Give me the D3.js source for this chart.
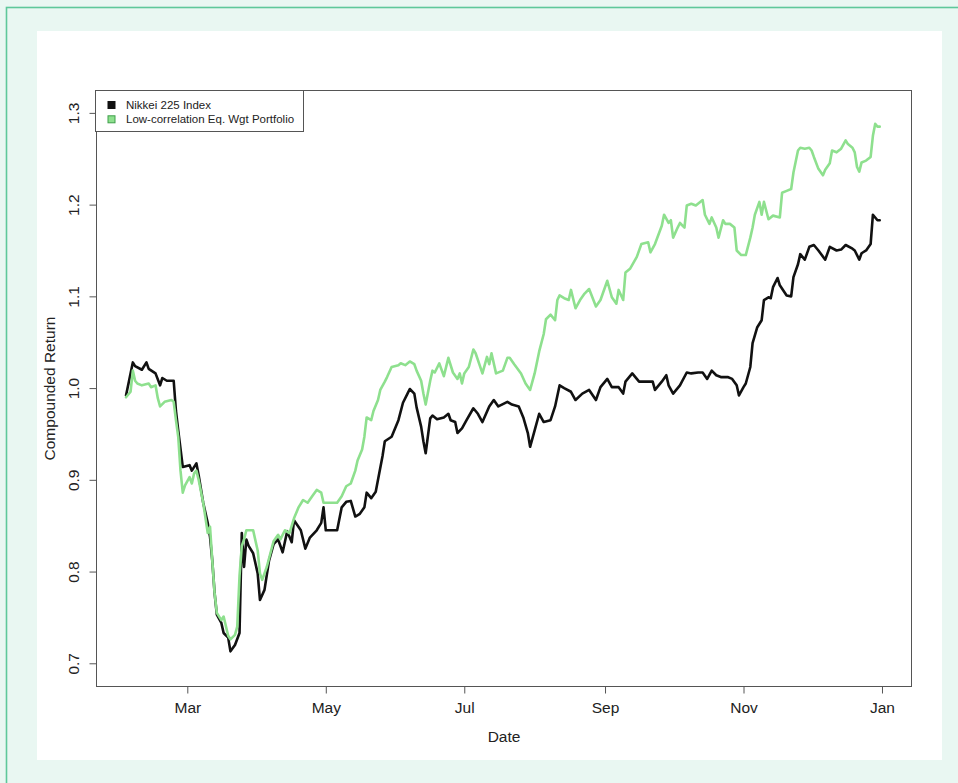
<!DOCTYPE html>
<html><head><meta charset="utf-8">
<script src="https://cdn.jsdelivr.net/npm/d3@7"></script>
<style>
html,body{margin:0;padding:0;background:#e9f7f2;}
svg{display:block;font-family:"Liberation Sans",Arial,sans-serif;}
</style>
</head><body>
<svg id="chart" width="958" height="783"></svg>
<script>
// ---------- data ----------
const seriesNames = ["Nikkei 225 Index", "Low-correlation Eq. Wgt Portfolio"];
const xTickDates = ["2020-03-01","2020-05-01","2020-07-01","2020-09-01","2020-11-01","2021-01-01"];
const yTickValues = [0.7, 0.8, 0.9, 1.0, 1.1, 1.2, 1.3];
const xTitle = "Date";
const yTitle = "Compounded Return";

const nikkeiDates = [
"2020-02-03","2020-02-06","2020-02-07","2020-02-10","2020-02-12","2020-02-13","2020-02-16","2020-02-18","2020-02-19","2020-02-21",
"2020-02-24","2020-02-25","2020-02-26","2020-02-28","2020-03-02","2020-03-03","2020-03-05","2020-03-06","2020-03-08","2020-03-10",
"2020-03-11","2020-03-12","2020-03-13","2020-03-14","2020-03-16","2020-03-17","2020-03-19","2020-03-20","2020-03-22","2020-03-24",
"2020-03-25","2020-03-26","2020-03-27","2020-03-28","2020-03-30","2020-04-01","2020-04-02","2020-04-04","2020-04-06","2020-04-08",
"2020-04-10","2020-04-12","2020-04-14","2020-04-16","2020-04-17","2020-04-20","2020-04-22","2020-04-24","2020-04-27","2020-04-29",
"2020-04-30","2020-05-01","2020-05-06","2020-05-08","2020-05-10","2020-05-12","2020-05-14","2020-05-16","2020-05-18","2020-05-19",
"2020-05-21","2020-05-23","2020-05-24","2020-05-26","2020-05-27","2020-05-30","2020-06-02","2020-06-04","2020-06-06","2020-06-07",
"2020-06-09","2020-06-10","2020-06-12","2020-06-13","2020-06-14","2020-06-16","2020-06-17","2020-06-19","2020-06-22","2020-06-24",
"2020-06-25","2020-06-27","2020-06-28","2020-06-30","2020-07-02","2020-07-05","2020-07-07","2020-07-09","2020-07-12","2020-07-14",
"2020-07-16","2020-07-20","2020-07-22","2020-07-25","2020-07-27","2020-07-29","2020-07-30","2020-08-01","2020-08-03","2020-08-05",
"2020-08-08","2020-08-10","2020-08-12","2020-08-14","2020-08-17","2020-08-19","2020-08-22","2020-08-25","2020-08-28","2020-08-30",
"2020-09-02","2020-09-04","2020-09-07","2020-09-09","2020-09-10","2020-09-13","2020-09-16","2020-09-22","2020-09-23","2020-09-26",
"2020-09-28","2020-09-29","2020-10-01","2020-10-04","2020-10-07","2020-10-09","2020-10-12","2020-10-14","2020-10-16","2020-10-18",
"2020-10-20","2020-10-22","2020-10-25","2020-10-27","2020-10-29","2020-10-30","2020-11-01","2020-11-02","2020-11-04","2020-11-05",
"2020-11-07","2020-11-09","2020-11-10","2020-11-12","2020-11-13","2020-11-14","2020-11-16","2020-11-17","2020-11-20","2020-11-22",
"2020-11-23","2020-11-25","2020-11-26","2020-11-28","2020-11-30","2020-12-02","2020-12-04","2020-12-07","2020-12-09","2020-12-12",
"2020-12-14","2020-12-16","2020-12-19","2020-12-20","2020-12-22","2020-12-23","2020-12-25","2020-12-27","2020-12-28","2020-12-30",
"2020-12-31"];
const nikkeiValues = [
0.992,1.028,1.024,1.020,1.028,1.021,1.016,1.003,1.011,1.008,
1.008,0.975,0.954,0.914,0.916,0.910,0.918,0.905,0.875,0.853,
0.838,0.812,0.777,0.753,0.744,0.733,0.728,0.713,0.720,0.733,
0.842,0.805,0.835,0.828,0.820,0.798,0.769,0.780,0.812,0.830,
0.835,0.821,0.844,0.832,0.856,0.845,0.825,0.837,0.845,0.853,
0.870,0.845,0.845,0.870,0.876,0.877,0.860,0.863,0.870,0.886,
0.880,0.887,0.900,0.926,0.942,0.947,0.965,0.984,0.994,0.999,
0.994,0.979,0.958,0.942,0.929,0.967,0.970,0.966,0.968,0.972,
0.965,0.963,0.951,0.956,0.965,0.978,0.972,0.963,0.980,0.987,
0.980,0.985,0.982,0.980,0.968,0.951,0.936,0.954,0.972,0.963,
0.965,0.980,1.003,1.000,0.996,0.987,0.994,0.998,0.987,1.001,
1.010,1.001,1.001,0.994,1.007,1.016,1.007,1.007,0.998,1.007,
1.014,1.003,0.994,1.003,1.017,1.016,1.017,1.017,1.010,1.019,
1.014,1.012,1.012,1.010,1.003,0.992,1.001,1.005,1.023,1.049,
1.066,1.074,1.096,1.099,1.098,1.110,1.120,1.112,1.101,1.100,
1.121,1.135,1.146,1.140,1.154,1.156,1.150,1.140,1.154,1.150,
1.151,1.156,1.152,1.150,1.140,1.147,1.150,1.157,1.189,1.183,
1.183];

const portfolioDates = [
"2020-02-03","2020-02-05","2020-02-06","2020-02-07","2020-02-08","2020-02-10","2020-02-13","2020-02-14","2020-02-16","2020-02-17",
"2020-02-18","2020-02-20","2020-02-23","2020-02-24","2020-02-25","2020-02-26","2020-02-27","2020-02-28","2020-02-29","2020-03-02",
"2020-03-03","2020-03-04","2020-03-05","2020-03-06","2020-03-08","2020-03-10","2020-03-11","2020-03-12","2020-03-13","2020-03-14",
"2020-03-16","2020-03-17","2020-03-19","2020-03-20","2020-03-22","2020-03-23","2020-03-24","2020-03-25","2020-03-26","2020-03-27",
"2020-03-30","2020-04-01","2020-04-02","2020-04-03","2020-04-05","2020-04-08","2020-04-10","2020-04-11","2020-04-13","2020-04-15",
"2020-04-17","2020-04-19","2020-04-21","2020-04-23","2020-04-25","2020-04-27","2020-04-29","2020-04-30","2020-05-06","2020-05-08",
"2020-05-10","2020-05-12","2020-05-14","2020-05-15","2020-05-17","2020-05-18","2020-05-19","2020-05-21","2020-05-22","2020-05-24",
"2020-05-25","2020-05-27","2020-05-28","2020-05-30","2020-06-02","2020-06-03","2020-06-05","2020-06-07","2020-06-09","2020-06-10",
"2020-06-12","2020-06-13","2020-06-14","2020-06-16","2020-06-17","2020-06-18","2020-06-20","2020-06-22","2020-06-24","2020-06-26",
"2020-06-28","2020-06-29","2020-06-30","2020-07-01","2020-07-03","2020-07-05","2020-07-06","2020-07-09","2020-07-11","2020-07-12",
"2020-07-13","2020-07-15","2020-07-18","2020-07-20","2020-07-21","2020-07-23","2020-07-26","2020-07-28","2020-07-30","2020-08-01",
"2020-08-03","2020-08-05","2020-08-06","2020-08-08","2020-08-10","2020-08-11","2020-08-12","2020-08-14","2020-08-16","2020-08-17",
"2020-08-19","2020-08-21","2020-08-23","2020-08-25","2020-08-28","2020-08-30","2020-09-02","2020-09-04","2020-09-06","2020-09-07",
"2020-09-09","2020-09-10","2020-09-12","2020-09-15","2020-09-17","2020-09-20","2020-09-21","2020-09-23","2020-09-26","2020-09-27",
"2020-09-29","2020-09-30","2020-10-01","2020-10-03","2020-10-04","2020-10-06","2020-10-07","2020-10-09","2020-10-11","2020-10-14",
"2020-10-15","2020-10-17","2020-10-18","2020-10-20","2020-10-21","2020-10-23","2020-10-24","2020-10-26","2020-10-28","2020-10-29",
"2020-10-31","2020-11-02","2020-11-04","2020-11-05","2020-11-06","2020-11-08","2020-11-09","2020-11-10","2020-11-12","2020-11-14",
"2020-11-17","2020-11-18","2020-11-20","2020-11-22","2020-11-23","2020-11-25","2020-11-26","2020-11-28","2020-11-30","2020-12-01",
"2020-12-02","2020-12-04","2020-12-06","2020-12-07","2020-12-09","2020-12-10","2020-12-12","2020-12-14","2020-12-16","2020-12-17",
"2020-12-19","2020-12-20","2020-12-21","2020-12-22","2020-12-23","2020-12-25","2020-12-27","2020-12-28","2020-12-29","2020-12-30",
"2020-12-31"];
const portfolioValues = [
0.990,0.996,1.019,1.008,1.005,1.003,1.005,1.001,1.003,0.989,
0.980,0.985,0.987,0.985,0.965,0.947,0.910,0.886,0.894,0.903,
0.896,0.907,0.910,0.900,0.875,0.842,0.849,0.812,0.777,0.755,
0.747,0.751,0.730,0.726,0.731,0.740,0.795,0.828,0.835,0.845,
0.845,0.823,0.798,0.791,0.805,0.833,0.840,0.835,0.845,0.842,
0.858,0.870,0.878,0.875,0.882,0.889,0.886,0.875,0.875,0.882,
0.893,0.896,0.910,0.921,0.933,0.947,0.968,0.965,0.975,0.987,
0.998,1.007,1.012,1.023,1.025,1.027,1.025,1.029,1.026,1.019,
1.008,0.994,0.982,1.008,1.019,1.017,1.027,1.013,1.033,1.017,
1.010,1.016,1.005,1.016,1.023,1.042,1.038,1.016,1.034,1.026,
1.038,1.016,1.019,1.033,1.033,1.026,1.016,1.005,0.998,1.016,
1.040,1.059,1.075,1.080,1.074,1.096,1.101,1.098,1.096,1.107,
1.087,1.096,1.103,1.108,1.089,1.096,1.117,1.099,1.092,1.107,
1.096,1.126,1.130,1.143,1.157,1.159,1.148,1.157,1.177,1.189,
1.180,1.183,1.164,1.175,1.180,1.175,1.199,1.201,1.199,1.205,
1.189,1.179,1.186,1.175,1.164,1.183,1.179,1.179,1.175,1.150,
1.145,1.145,1.164,1.175,1.189,1.203,1.189,1.203,1.184,1.188,
1.186,1.213,1.215,1.217,1.235,1.259,1.262,1.261,1.262,1.259,
1.252,1.239,1.232,1.238,1.245,1.259,1.257,1.261,1.270,1.266,
1.262,1.257,1.241,1.236,1.246,1.248,1.252,1.275,1.288,1.285,
1.285];

// ---------- drawing ----------
const parse = d3.timeParse("%Y-%m-%d");
const svg = d3.select("#chart");
const font = "'Liberation Sans', Arial, sans-serif";

// page frame
svg.append("rect").attr("x",0).attr("y",0).attr("width",958).attr("height",783).attr("fill","#e9f7f2");
svg.append("rect").attr("x",6.5).attr("y",7.5).attr("width",1200).attr("height",1200)
  .attr("fill","none").attr("stroke","#5ec89a").attr("stroke-width",1.6);
svg.append("rect").attr("x",37).attr("y",31).attr("width",905).attr("height",729).attr("fill","#ffffff");

const L = 96.5, R = 911.5, T = 90.5, B = 686.5;
const x = d3.scaleTime().domain([parse("2020-01-21"), parse("2021-01-14")]).range([L, R]);
const y = d3.scaleLinear().domain([0.6747, 1.3244]).range([B, T]);

const nikkei = nikkeiDates.map((d,i)=>({date:parse(d), value:nikkeiValues[i]}));
const portfolio = portfolioDates.map((d,i)=>({date:parse(d), value:portfolioValues[i]}));

const line = d3.line().x(d=>x(d.date)).y(d=>y(d.value));

svg.append("path").datum(nikkei).attr("d",line)
  .attr("fill","none").attr("stroke","#111").attr("stroke-width",2.6)
  .attr("stroke-linejoin","round").attr("stroke-linecap","round");
svg.append("path").datum(portfolio).attr("d",line)
  .attr("fill","none").attr("stroke","#8ee08e").attr("stroke-width",2.6)
  .attr("stroke-linejoin","round").attr("stroke-linecap","round");

// box
svg.append("rect").attr("x",L).attr("y",T).attr("width",R-L).attr("height",B-T)
  .attr("fill","none").attr("stroke","#555").attr("stroke-width",1);

// x axis
const xAxis = d3.axisBottom(x).tickValues(xTickDates.map(parse))
  .tickFormat(d3.timeFormat("%b")).tickSize(7).tickSizeOuter(0).tickPadding(8);
const gx = svg.append("g").attr("transform",`translate(0,${B})`).call(xAxis);
gx.select(".domain").remove();
gx.selectAll(".tick line").attr("stroke","#555");
gx.selectAll(".tick text").attr("fill","#222").style("font-size","15.5px").style("font-family",font);

// y axis
const yAxis = d3.axisLeft(y).tickValues(yTickValues).tickFormat(d3.format(".1f"))
  .tickSize(7).tickSizeOuter(0);
const gy = svg.append("g").attr("transform",`translate(${L},0)`).call(yAxis);
gy.select(".domain").remove();
gy.selectAll(".tick line").attr("stroke","#555");
gy.selectAll(".tick text").attr("fill","#222").style("font-size","15.5px").style("font-family",font)
  .attr("transform","rotate(-90)").attr("x",0).attr("y",-18).attr("dy",0)
  .style("text-anchor","middle");

// titles
svg.append("text").attr("x",(L+R)/2).attr("y",742).attr("text-anchor","middle")
  .attr("fill","#222").style("font-size","15.5px").style("font-family",font).text(xTitle);
svg.append("text").attr("transform",`translate(55,${(T+B)/2}) rotate(-90)`).attr("text-anchor","middle")
  .attr("fill","#222").style("font-size","15.5px").style("font-family",font).text(yTitle);

// legend
const lg = svg.append("g");
lg.append("rect").attr("x",95.5).attr("y",90.5).attr("width",208).attr("height",41)
  .attr("fill","#fff").attr("stroke","#555").attr("stroke-width",1);
const legendFill = ["#111","#8ee08e"];
const legendStroke = ["#111","#3f9f4a"];
seriesNames.forEach((name,i)=>{
  const cy = 105 + i*14.3;
  lg.append("rect").attr("x",108).attr("y",cy-3.5).attr("width",7).attr("height",7)
    .attr("fill",legendFill[i]).attr("stroke",legendStroke[i]).attr("stroke-width",1);
  lg.append("text").attr("x",126).attr("y",cy).attr("dy","0.35em")
    .attr("fill","#222").style("font-size","11.5px").style("font-family",font).text(name);
});
</script>
</body></html>
